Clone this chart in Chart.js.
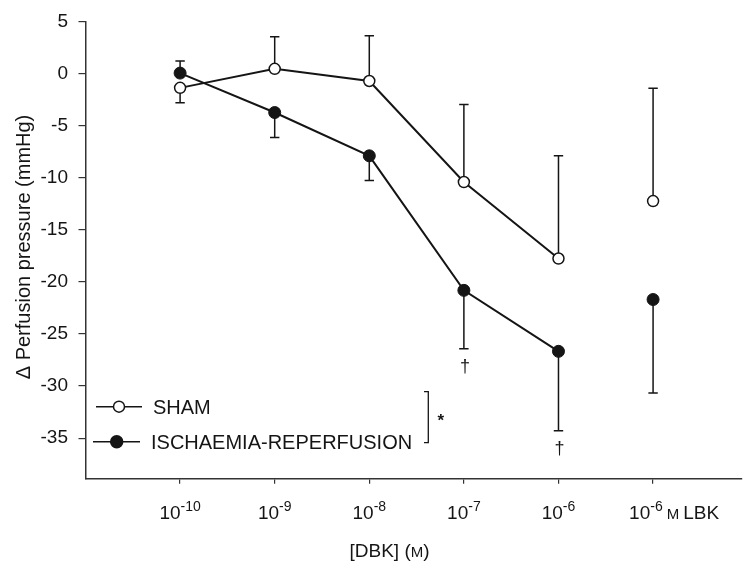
<!DOCTYPE html>
<html>
<head>
<meta charset="utf-8">
<script src="https://cdn.jsdelivr.net/npm/chart.js@4.4.1/dist/chart.umd.min.js"></script>
<style>
  html, body { margin: 0; padding: 0; background: #fff; }
  #wrap { width: 749px; height: 569px; }
</style>
</head>
<body>
<div id="wrap"><canvas id="perfusionChart" width="749" height="569"></canvas></div>
<script>
// tick labels: base, superscript, trailing text
const tickBase = ["10", "10", "10", "10", "10", "10"];
const tickExp = ["-10", "-9", "-8", "-7", "-6", "-6"];
const tickSuffix = ["", "", "", "", "", "M LBK"];

// means and SEM
const shamMean = [-1.34, 0.49, -0.68, -10.39, -17.74, -12.22];
const shamSem = [1.42, 3.09, 4.35, 7.44, 9.87, 10.85];
const shamErrSide = [-1, 1, 1, 1, 1, 1];

const ischMean = [0.08, -3.71, -7.87, -20.8, -26.66, -21.68];
const ischSem = [1.17, 2.39, 2.37, 5.61, 7.64, 8.99];
const ischErrSide = [1, -1, -1, -1, -1, -1];

const daggerAt = [3, 4];

const FONT = '"Liberation Sans", Arial, Helvetica, sans-serif';
const INK = "#151515";

function toPoints(vals) {
  return vals.map((v, i) => ({ x: i, y: v }));
}

// no line between 10^-6 and the LBK point
const hideLast = ctx => ctx.p1DataIndex === 5 ? "rgba(0,0,0,0)" : INK;

const errorBars = {
  id: "errorBars",
  beforeDatasetsDraw(chart) {
    const { ctx, scales: { x, y } } = chart;
    const groups = [
      [shamMean, shamSem, shamErrSide],
      [ischMean, ischSem, ischErrSide]
    ];
    ctx.save();
    ctx.strokeStyle = INK;
    ctx.lineWidth = 1.5;
    groups.forEach(([mean, sem, side]) => {
      mean.forEach((m, i) => {
        const px = x.getPixelForValue(i);
        const y0 = y.getPixelForValue(m);
        const y1 = y.getPixelForValue(m + side[i] * sem[i]);
        ctx.beginPath();
        ctx.moveTo(px, y0);
        ctx.lineTo(px, y1);
        ctx.moveTo(px - 4.7, y1);
        ctx.lineTo(px + 4.7, y1);
        ctx.stroke();
      });
    });
    ctx.restore();
  }
};

const annotations = {
  id: "annotations",
  afterDraw(chart) {
    const { ctx, scales: { x, y } } = chart;
    ctx.save();
    ctx.fillStyle = INK;
    ctx.strokeStyle = INK;

    // x tick labels with superscripts
    tickBase.forEach((base, i) => {
      const px = x.getPixelForValue(i);
      ctx.font = "19px " + FONT;
      const wb = ctx.measureText(base).width;
      ctx.font = "14px " + FONT;
      const we = ctx.measureText(tickExp[i]).width;
      let sx = tickSuffix[i] ? px - 24 : px - (wb + we) / 2;
      ctx.textBaseline = "alphabetic";
      ctx.textAlign = "left";
      ctx.font = "19px " + FONT;
      ctx.fillText(base, sx, 519);
      ctx.font = "14px " + FONT;
      ctx.fillText(tickExp[i], sx + wb, 511);
      if (tickSuffix[i]) {
        let cx = sx + wb + we + 4;
        ctx.font = "15px " + FONT;
        ctx.fillText("M", cx, 519);
        cx += ctx.measureText("M").width + 4;
        ctx.font = "19px " + FONT;
        ctx.fillText("LBK", cx, 519);
      }
    });

    // x title "[DBK] (M)" with small-cap M
    ctx.font = "19px " + FONT;
    const a = "[DBK] (", c = ")";
    const wa = ctx.measureText(a).width, wc = ctx.measureText(c).width;
    ctx.font = "15px " + FONT;
    const wm = ctx.measureText("M").width;
    let tx = 389.5 - (wa + wm + wc) / 2;
    ctx.font = "19px " + FONT;
    ctx.fillText(a, tx, 557);
    ctx.font = "15px " + FONT;
    ctx.fillText("M", tx + wa, 557);
    ctx.font = "19px " + FONT;
    ctx.fillText(c, tx + wa + wm, 557);

    // y title
    ctx.save();
    ctx.translate(24, 247);
    ctx.rotate(-Math.PI / 2);
    ctx.textAlign = "center";
    ctx.textBaseline = "middle";
    ctx.font = "20px " + FONT;
    ctx.fillText("\u0394 Perfusion pressure (mmHg)", 0, 0);
    ctx.restore();

    // daggers under the ischaemia error bars
    ctx.textAlign = "center";
    ctx.textBaseline = "middle";
    ctx.font = "18px " + FONT;
    daggerAt.forEach(i => {
      const capY = y.getPixelForValue(ischMean[i] + ischErrSide[i] * ischSem[i]);
      ctx.fillText("\u2020", x.getPixelForValue(i) + 1, capY + 18);
    });

    // legend
    const rows = [
      { label: "SHAM", y: 406.7, x0: 96, x1: 142, mx: 119, fill: "#fff", r: 5.5, tx: 153 },
      { label: "ISCHAEMIA-REPERFUSION", y: 441.7, x0: 93, x1: 140, mx: 116.7, fill: INK, r: 6, tx: 151 }
    ];
    rows.forEach(r => {
      ctx.lineWidth = 1.5;
      ctx.beginPath();
      ctx.moveTo(r.x0, r.y);
      ctx.lineTo(r.x1, r.y);
      ctx.stroke();
      ctx.beginPath();
      ctx.arc(r.mx, r.y, r.r, 0, Math.PI * 2);
      ctx.fillStyle = r.fill;
      ctx.fill();
      ctx.stroke();
      ctx.fillStyle = INK;
      ctx.textAlign = "left";
      ctx.textBaseline = "alphabetic";
      ctx.font = "20px " + FONT;
      ctx.fillText(r.label, r.tx, r.y + 7.5);
    });

    // significance bracket
    ctx.lineWidth = 1.3;
    ctx.beginPath();
    ctx.moveTo(424, 391.7);
    ctx.lineTo(428.3, 391.7);
    ctx.lineTo(428.3, 442.7);
    ctx.lineTo(424, 442.7);
    ctx.stroke();
    ctx.font = "bold 17px " + FONT;
    ctx.textAlign = "center";
    ctx.textBaseline = "middle";
    ctx.fillText("*", 440.7, 421);

    ctx.restore();
  }
};

new Chart(document.getElementById("perfusionChart"), {
  type: "line",
  data: {
    datasets: [
      {
        label: "ISCHAEMIA-REPERFUSION",
        data: toPoints(ischMean),
        borderColor: INK,
        borderWidth: 2,
        pointRadius: 6,
        pointBackgroundColor: INK,
        pointBorderColor: INK,
        pointBorderWidth: 1,
        segment: { borderColor: hideLast }
      },
      {
        label: "SHAM",
        data: toPoints(shamMean),
        borderColor: INK,
        borderWidth: 2,
        pointRadius: 5.5,
        pointBackgroundColor: "#fff",
        pointBorderColor: INK,
        pointBorderWidth: 1.5,
        segment: { borderColor: hideLast }
      }
    ]
  },
  options: {
    responsive: false,
    animation: false,
    layout: { padding: { left: 0, right: 1, top: 14.65, bottom: 0 } },
    plugins: { legend: { display: false }, tooltip: { enabled: false } },
    scales: {
      x: {
        type: "linear",
        min: -1,
        max: 5.94,
        afterBuildTicks: s => { s.ticks = [0, 1, 2, 3, 4, 5].map(v => ({ value: v })); },
        afterFit: s => { s.height = 90.3; },
        ticks: { callback: () => "", padding: 0 },
        grid: { drawOnChartArea: false, drawTicks: true, tickLength: 5, color: "#333", lineWidth: 1.2 },
        border: { display: true, color: "#333", width: 1.5 }
      },
      y: {
        min: -38.9,
        max: 5,
        afterBuildTicks: s => {
          s.ticks = [5, 0, -5, -10, -15, -20, -25, -30, -35].map(v => ({ value: v }));
        },
        afterFit: s => { s.width = 85.5; },
        ticks: {
          color: INK,
          font: { family: FONT, size: 19 },
          padding: 10.5,
          callback: v => String(v)
        },
        grid: { drawOnChartArea: false, drawTicks: true, tickLength: 7, color: "#333", lineWidth: 1.2 },
        border: { display: true, color: "#333", width: 1.5 }
      }
    }
  },
  plugins: [errorBars, annotations]
});
</script>
</body>
</html>
